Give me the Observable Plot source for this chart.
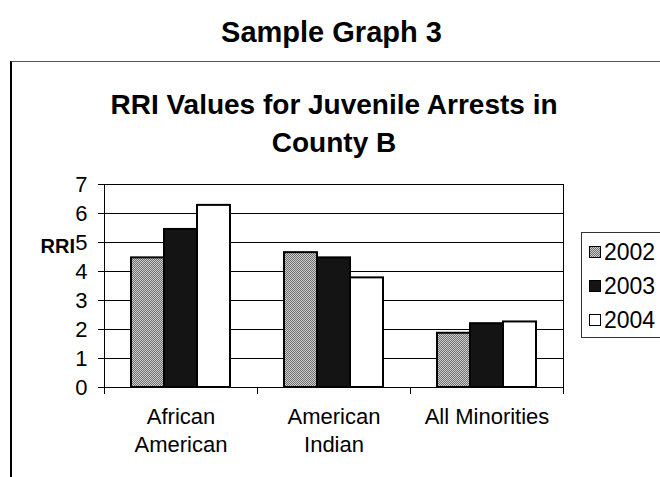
<!DOCTYPE html>
<html>
<head>
<meta charset="utf-8">
<script src="https://cdn.jsdelivr.net/npm/d3@7"></script>
<script src="https://cdn.jsdelivr.net/npm/@observablehq/plot@0.6"></script>
<style>
  html, body { margin: 0; padding: 0; background: #fff; }
  body { font-family: "Liberation Sans", Arial, Helvetica, sans-serif; color: #000; }
  #page { position: relative; width: 660px; height: 477px; overflow: hidden; background: #fff; }
  #t1 { position: absolute; left: 0; top: 15px; width: 663px; text-align: center; font-weight: bold; font-size: 29px; line-height: 34px; }
  #box { position: absolute; left: 10px; top: 61px; width: 700px; height: 460px; border-left: 2px solid #000; border-top: 1px solid #555; }
  #t2 { position: absolute; left: 0; top: 86px; width: 668px; text-align: center; font-weight: bold; font-size: 28px; line-height: 38px; }
  #chart { position: absolute; left: 0; top: 160px; }
  #ylab { position: absolute; left: 37px; top: 236px; width: 38px; text-align: right; font-weight: bold; font-size: 20px; line-height: 20px; }
  #legend { position: absolute; left: 581px; top: 232px; width: 110px; height: 104px; border: 1px solid #333; background: #fff; }
  .item { position: absolute; left: 7px; height: 24px; display: flex; align-items: center; font-size: 23px; line-height: 24px; }
  .item svg { margin-right: 3px; }
</style>
</head>
<body>
<svg width="0" height="0" style="position:absolute">
  <defs>
    <pattern id="p2002" width="2" height="2" patternUnits="userSpaceOnUse">
      <rect width="2" height="2" fill="#cfcfcf"></rect>
      <rect width="1" height="1" fill="#6e6e6e"></rect>
      <rect x="1" y="1" width="1" height="1" fill="#6e6e6e"></rect>
    </pattern>
  </defs>
</svg>
<div id="page">
  <div id="t1">Sample Graph 3</div>
  <div id="box"></div>
  <div id="t2">RRI Values for Juvenile Arrests in<br>County B</div>
  <div id="chart"></div>
  <div id="ylab">RRI</div>
  <div id="legend"></div>
</div>
<script>
const categories = ["African American", "American Indian", "All Minorities"];
const categoryLabels = ["African\nAmerican", "American\nIndian", "All Minorities"];
const years = ["2002", "2003", "2004"];
const rri2002 = [4.47, 4.65, 1.87];
const rri2003 = [5.45, 4.47, 2.2];
const rri2004 = [6.28, 3.78, 2.26];
const yTicks = [0, 1, 2, 3, 4, 5, 6, 7];
const yearFills = ["url(#p2002)", "#141414", "#ffffff"];

const seriesValues = [rri2002, rri2003, rri2004];
const rows = years.map((yr, j) => categories.map((c, i) => ({category: c, year: yr, value: seriesValues[j][i]})));

const W = 660, H = 310, mT = 24, mB = 83, mL = 103, mR = 97;
const plotH = H - mT - mB;

const chart = Plot.plot({
  width: W, height: H,
  marginTop: mT, marginBottom: mB, marginLeft: mL, marginRight: mR,
  style: {fontFamily: '"Liberation Sans", Arial, sans-serif', color: "#000", background: "transparent", overflow: "visible"},
  fx: {domain: categories, padding: 0, label: null},
  x: {domain: years, paddingInner: 0, paddingOuter: 0.755, axis: null},
  y: {domain: [0, 7], axis: null},
  marks: [
    Plot.ruleY(yTicks.slice(1, -1), {stroke: "#000", strokeWidth: 1}),
    ...years.map((yr, j) => Plot.barY(rows[j], {fx: "category", x: "year", y: "value", fill: yearFills[j], stroke: "#000", strokeWidth: 2})),
    Plot.frame({anchor: "left", insetTop: plotH, insetBottom: -6, stroke: "#000"}),
    Plot.frame({anchor: "right", insetTop: plotH, insetBottom: -6, stroke: "#000"}),
    Plot.frame({facet: "super", stroke: "#000", strokeWidth: 1}),
    Plot.axisY({ticks: yTicks, tickSize: 6, tickPadding: 11, fontSize: 22, label: null, tickFormat: d => String(d)}),
    Plot.axisFx({anchor: "bottom", tickSize: 0, tickPadding: 16, fontSize: 22, lineHeight: 1.29, label: null,
      tickFormat: d => categoryLabels[categories.indexOf(d)]})
  ]
});
document.getElementById("chart").appendChild(chart);

// legend
const legend = document.getElementById("legend");
const legendTops = [7, 41, 75];
years.forEach((yr, j) => {
  const it = document.createElement("div");
  it.className = "item";
  it.style.top = legendTops[j] + "px";
  it.innerHTML = `<svg width="12" height="12"><rect x="0.5" y="0.5" width="11" height="11" fill="${yearFills[j]}" stroke="#000" stroke-width="1"></rect></svg><span>${yr}</span>`;
  legend.appendChild(it);
});
</script>
</body>
</html>
